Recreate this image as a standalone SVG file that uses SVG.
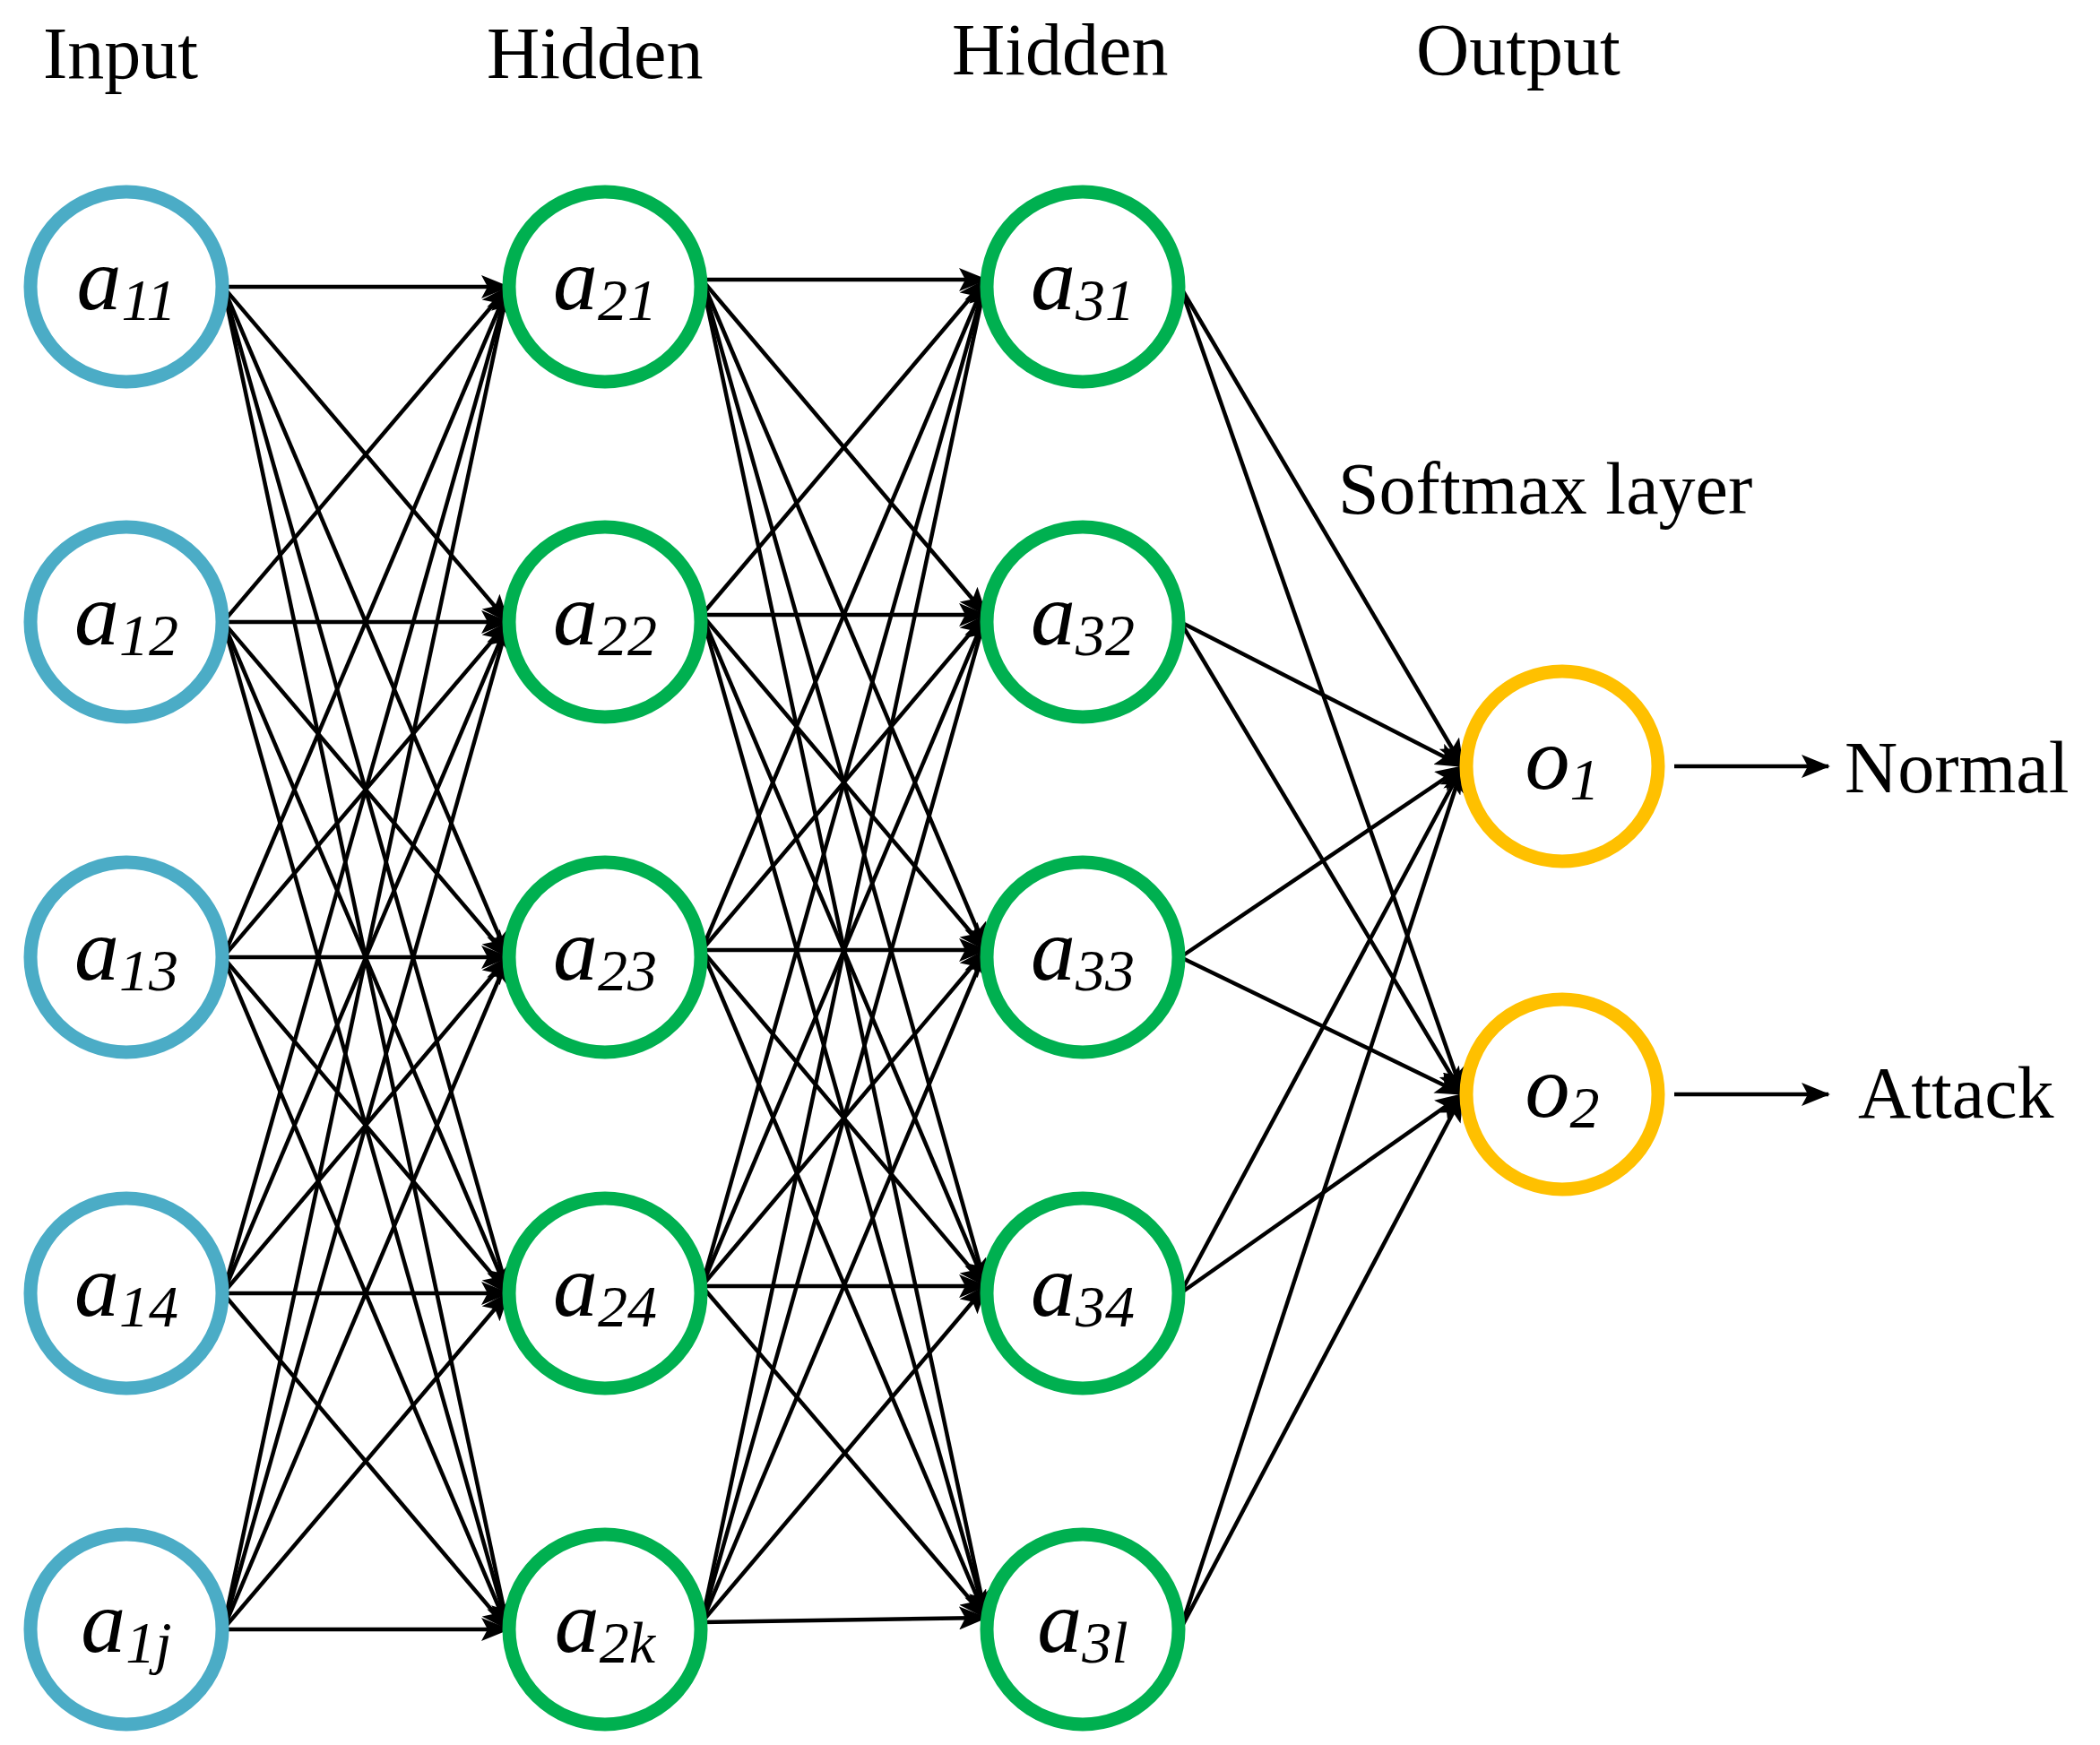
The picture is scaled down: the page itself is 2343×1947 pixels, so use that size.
<svg xmlns="http://www.w3.org/2000/svg" width="2343" height="1947" viewBox="0 0 2343 1947">
<style>
.t{font-family:"Liberation Serif",serif;font-size:82px;fill:#000}
.n{font-family:"Liberation Serif",serif;font-size:100px;font-style:italic;fill:#000;text-anchor:middle}
.s{font-size:66px}
.i{fill:#fff;stroke:#4BACC6;stroke-width:15}
.h{fill:#fff;stroke:#00B050;stroke-width:15}
.o{fill:#fff;stroke:#FFC000;stroke-width:15}
line{stroke:#000;stroke-width:4.5;marker-end:url(#ar)}
</style>
<defs><marker id="ar" markerUnits="userSpaceOnUse" markerWidth="32" markerHeight="26" refX="30" refY="13" orient="auto"><path d="M0,0L32,13L0,26L7,13z" fill="#000"/></marker></defs>
<rect width="2343" height="1947" fill="#fff"/>
<g id="connectors">
<line x1="249" y1="320" x2="567" y2="320"/><line x1="249" y1="320" x2="567" y2="694"/><line x1="249" y1="320" x2="567" y2="1068"/><line x1="249" y1="320" x2="567" y2="1443"/><line x1="249" y1="320" x2="567" y2="1818"/>
<line x1="249" y1="694" x2="567" y2="320"/><line x1="249" y1="694" x2="567" y2="694"/><line x1="249" y1="694" x2="567" y2="1068"/><line x1="249" y1="694" x2="567" y2="1443"/><line x1="249" y1="694" x2="567" y2="1818"/>
<line x1="249" y1="1068" x2="567" y2="320"/><line x1="249" y1="1068" x2="567" y2="694"/><line x1="249" y1="1068" x2="567" y2="1068"/><line x1="249" y1="1068" x2="567" y2="1443"/><line x1="249" y1="1068" x2="567" y2="1818"/>
<line x1="249" y1="1443" x2="567" y2="320"/><line x1="249" y1="1443" x2="567" y2="694"/><line x1="249" y1="1443" x2="567" y2="1068"/><line x1="249" y1="1443" x2="567" y2="1443"/><line x1="249" y1="1443" x2="567" y2="1818"/>
<line x1="249" y1="1818" x2="567" y2="320"/><line x1="249" y1="1818" x2="567" y2="694"/><line x1="249" y1="1818" x2="567" y2="1068"/><line x1="249" y1="1818" x2="567" y2="1443"/><line x1="249" y1="1818" x2="567" y2="1818"/>
<line x1="783" y1="312" x2="1100" y2="312"/><line x1="783" y1="312" x2="1100" y2="686"/><line x1="783" y1="312" x2="1100" y2="1060"/><line x1="783" y1="312" x2="1100" y2="1435"/><line x1="783" y1="312" x2="1100" y2="1805"/>
<line x1="783" y1="686" x2="1100" y2="312"/><line x1="783" y1="686" x2="1100" y2="686"/><line x1="783" y1="686" x2="1100" y2="1060"/><line x1="783" y1="686" x2="1100" y2="1435"/><line x1="783" y1="686" x2="1100" y2="1805"/>
<line x1="783" y1="1060" x2="1100" y2="312"/><line x1="783" y1="1060" x2="1100" y2="686"/><line x1="783" y1="1060" x2="1100" y2="1060"/><line x1="783" y1="1060" x2="1100" y2="1435"/><line x1="783" y1="1060" x2="1100" y2="1805"/>
<line x1="783" y1="1435" x2="1100" y2="312"/><line x1="783" y1="1435" x2="1100" y2="686"/><line x1="783" y1="1435" x2="1100" y2="1060"/><line x1="783" y1="1435" x2="1100" y2="1435"/><line x1="783" y1="1435" x2="1100" y2="1805"/>
<line x1="783" y1="1810" x2="1100" y2="312"/><line x1="783" y1="1810" x2="1100" y2="686"/><line x1="783" y1="1810" x2="1100" y2="1060"/><line x1="783" y1="1810" x2="1100" y2="1435"/><line x1="783" y1="1810" x2="1100" y2="1805"/>
<line x1="1317" y1="320" x2="1632" y2="855"/><line x1="1317" y1="320" x2="1632" y2="1221"/><line x1="1317" y1="694" x2="1632" y2="855"/><line x1="1317" y1="694" x2="1632" y2="1221"/><line x1="1317" y1="1068" x2="1632" y2="855"/><line x1="1317" y1="1068" x2="1632" y2="1221"/><line x1="1317" y1="1443" x2="1632" y2="855"/><line x1="1317" y1="1443" x2="1632" y2="1221"/><line x1="1317" y1="1818" x2="1632" y2="855"/><line x1="1317" y1="1818" x2="1632" y2="1221"/>
<line x1="1868" y1="855" x2="2040" y2="855"/><line x1="1868" y1="1221" x2="2040" y2="1221"/>
</g>
<g id="headers">
<text class="t" x="48" y="87">Input</text>
<text class="t" x="543" y="87">Hidden</text>
<text class="t" x="1062" y="83">Hidden</text>
<text class="t" x="1580" y="83">Output</text>
<text class="t" x="1493" y="573">Softmax layer</text>
<text class="t" x="2058" y="884">Normal</text>
<text class="t" x="2073" y="1247">Attack</text>
</g>
<g id="a11"><ellipse class="i" cx="141" cy="320" rx="107" ry="106"/><text class="n" x="141" y="345">a<tspan class="s" dy="12">11</tspan></text></g>
<g id="a12"><ellipse class="i" cx="141" cy="694" rx="107" ry="106"/><text class="n" x="141" y="719">a<tspan class="s" dy="12">12</tspan></text></g>
<g id="a13"><ellipse class="i" cx="141" cy="1068" rx="107" ry="106"/><text class="n" x="141" y="1093">a<tspan class="s" dy="12">13</tspan></text></g>
<g id="a14"><ellipse class="i" cx="141" cy="1443" rx="107" ry="106"/><text class="n" x="141" y="1468">a<tspan class="s" dy="12">14</tspan></text></g>
<g id="a1j"><ellipse class="i" cx="141" cy="1818" rx="107" ry="106"/><text class="n" x="141" y="1843">a<tspan class="s" dy="12">1j</tspan></text></g>
<g id="a21"><ellipse class="h" cx="675" cy="320" rx="107" ry="106"/><text class="n" x="675" y="345">a<tspan class="s" dy="12">21</tspan></text></g>
<g id="a22"><ellipse class="h" cx="675" cy="694" rx="107" ry="106"/><text class="n" x="675" y="719">a<tspan class="s" dy="12">22</tspan></text></g>
<g id="a23"><ellipse class="h" cx="675" cy="1068" rx="107" ry="106"/><text class="n" x="675" y="1093">a<tspan class="s" dy="12">23</tspan></text></g>
<g id="a24"><ellipse class="h" cx="675" cy="1443" rx="107" ry="106"/><text class="n" x="675" y="1468">a<tspan class="s" dy="12">24</tspan></text></g>
<g id="a2k"><ellipse class="h" cx="675" cy="1818" rx="107" ry="106"/><text class="n" x="675" y="1843">a<tspan class="s" dy="12">2k</tspan></text></g>
<g id="a31"><ellipse class="h" cx="1208" cy="320" rx="107" ry="106"/><text class="n" x="1208" y="345">a<tspan class="s" dy="12">31</tspan></text></g>
<g id="a32"><ellipse class="h" cx="1208" cy="694" rx="107" ry="106"/><text class="n" x="1208" y="719">a<tspan class="s" dy="12">32</tspan></text></g>
<g id="a33"><ellipse class="h" cx="1208" cy="1068" rx="107" ry="106"/><text class="n" x="1208" y="1093">a<tspan class="s" dy="12">33</tspan></text></g>
<g id="a34"><ellipse class="h" cx="1208" cy="1443" rx="107" ry="106"/><text class="n" x="1208" y="1468">a<tspan class="s" dy="12">34</tspan></text></g>
<g id="a3l"><ellipse class="h" cx="1208" cy="1818" rx="107" ry="106"/><text class="n" x="1208" y="1843">a<tspan class="s" dy="12">3l</tspan></text></g>
<g id="o1"><ellipse class="o" cx="1743" cy="855" rx="107" ry="106"/><text class="n" x="1743" y="880">o<tspan class="s" dy="12">1</tspan></text></g>
<g id="o2"><ellipse class="o" cx="1743" cy="1221" rx="107" ry="106"/><text class="n" x="1743" y="1246">o<tspan class="s" dy="12">2</tspan></text></g>
</svg>
